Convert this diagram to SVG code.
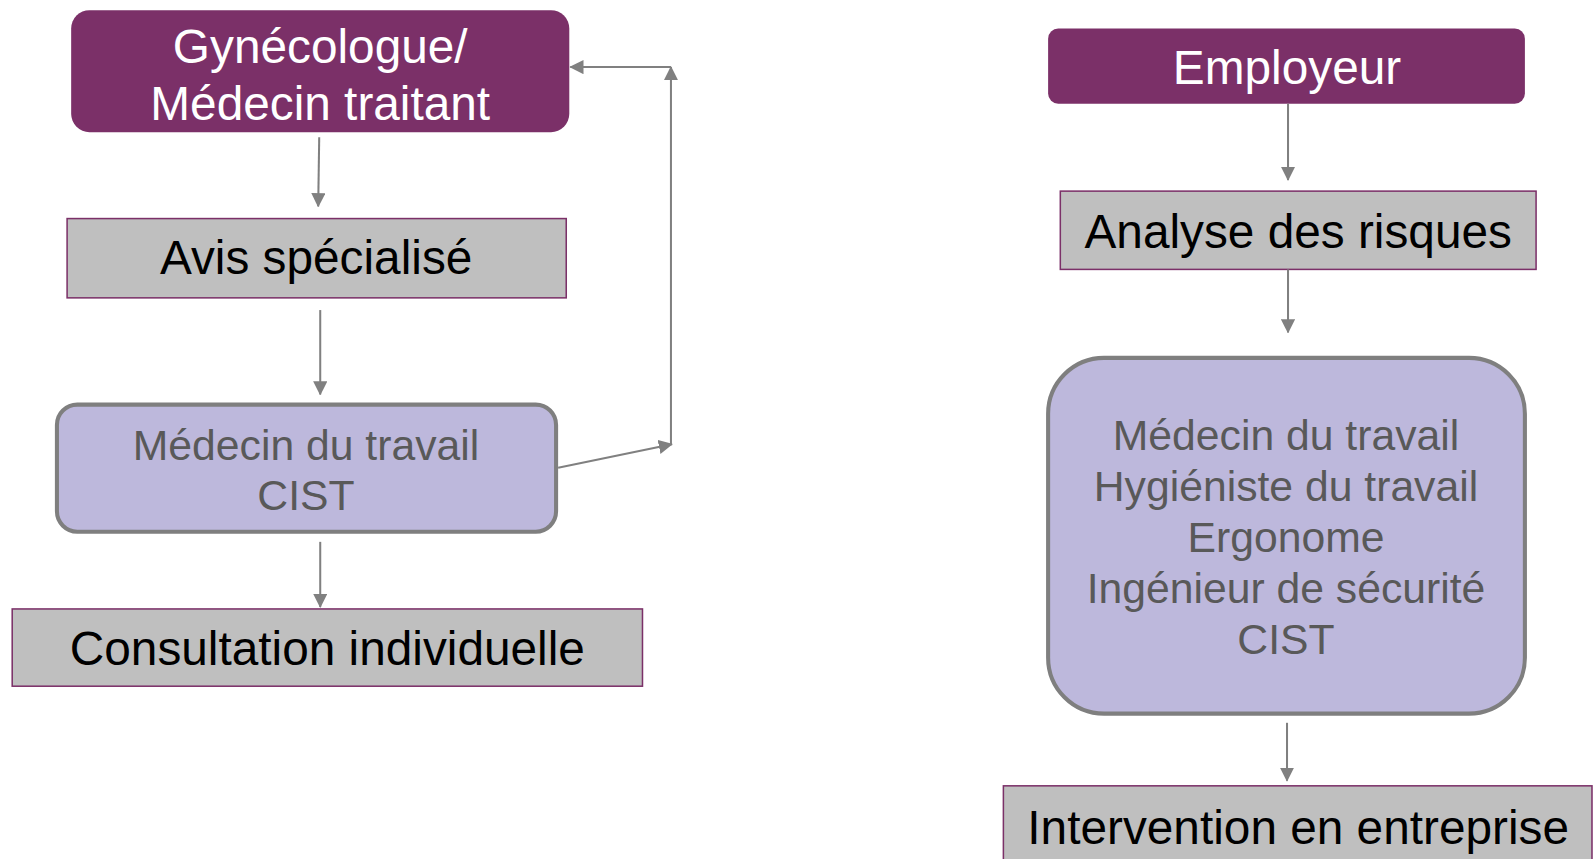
<svg xmlns="http://www.w3.org/2000/svg" width="1594" height="859" viewBox="0 0 1594 859">
<defs>
<marker id="ahs" markerWidth="14" markerHeight="14" refX="13" refY="7" orient="auto" markerUnits="userSpaceOnUse"><path d="M0,0 L14,7 L0,14 z" fill="#808080"/></marker>
</defs>
<style>
text{font-family:"Liberation Sans",Arial,sans-serif;text-anchor:middle}
.purple{fill:#7B3068}
.grey{fill:#BFBFBF;stroke:#7B3068;stroke-width:1.5}
.lav{fill:#BDB8DC;stroke:#7F7F7F;stroke-width:4}
.wt{fill:#FFFFFF;font-size:47px}
.bt{fill:#000000;font-size:47px}
.gt{fill:#595959;font-size:42px}
.c{stroke:#808080;stroke-width:2;fill:none}
</style>
<rect width="1594" height="859" fill="#FFFFFF"/>
<g transform="scale(1.0166)" font-family="Liberation Sans, Arial, sans-serif">
<g id="gyneco">
<rect class="purple" x="70" y="10" width="490" height="120" rx="18"/>
<text class="wt" x="315" y="62">Gynécologue/</text>
<text class="wt" x="315" y="118">Médecin traitant</text>
</g>
<g id="avis">
<rect class="grey" x="66" y="215" width="491" height="78"/>
<text class="bt" x="311" y="270">Avis spécialisé</text>
</g>
<g id="medecin1">
<rect class="lav" x="56" y="398" width="491" height="125" rx="20"/>
<text class="gt" x="301" y="452">Médecin du travail</text>
<text class="gt" x="301" y="502">CIST</text>
</g>
<g id="consultation">
<rect class="grey" x="12" y="599" width="620" height="76"/>
<text class="bt" x="322" y="654">Consultation individuelle</text>
</g>
<g id="employeur">
<rect class="purple" x="1031" y="28" width="469" height="74" rx="10"/>
<text class="wt" x="1266" y="83">Employeur</text>
</g>
<g id="analyse">
<rect class="grey" x="1043" y="188" width="468" height="77"/>
<text class="bt" x="1277" y="244">Analyse des risques</text>
</g>
<g id="equipe">
<rect class="lav" x="1031" y="352" width="469" height="350" rx="55"/>
<text class="gt" x="1265" y="443">Médecin du travail</text>
<text class="gt" x="1265" y="493">Hygiéniste du travail</text>
<text class="gt" x="1265" y="543">Ergonome</text>
<text class="gt" x="1265" y="593">Ingénieur de sécurité</text>
<text class="gt" x="1265" y="643">CIST</text>
</g>
<g id="intervention">
<rect class="grey" x="987" y="773" width="579" height="100"/>
<text class="bt" x="1277" y="830">Intervention en entreprise</text>
</g>
<g id="connectors">
<line class="c" x1="314" y1="135" x2="313" y2="203" marker-end="url(#ahs)"/>
<line class="c" x1="315" y1="305" x2="315" y2="388" marker-end="url(#ahs)"/>
<line class="c" x1="315" y1="533" x2="315" y2="597" marker-end="url(#ahs)"/>
<line class="c" x1="549" y1="460" x2="661" y2="437" marker-end="url(#ahs)"/>
<line class="c" x1="660" y1="437" x2="660" y2="66" marker-end="url(#ahs)"/>
<line class="c" x1="660" y1="66" x2="561" y2="66" marker-end="url(#ahs)"/>
<line class="c" x1="1267" y1="102" x2="1267" y2="177" marker-end="url(#ahs)"/>
<line class="c" x1="1267" y1="265" x2="1267" y2="327" marker-end="url(#ahs)"/>
<line class="c" x1="1266" y1="711" x2="1266" y2="768" marker-end="url(#ahs)"/>
</g>
</g>
</svg>
